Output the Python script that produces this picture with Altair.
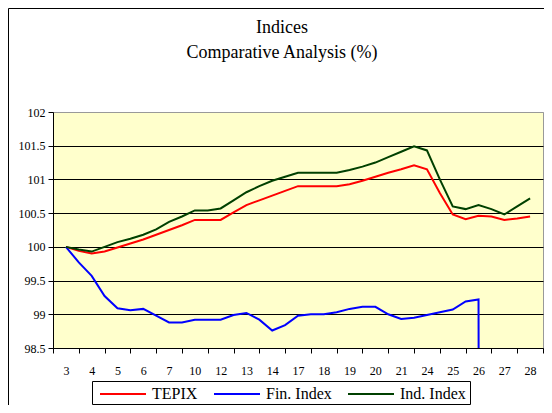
import altair as alt
import pandas as pd

# Category labels on the x axis (days)
x_labels = ["3", "4", "5", "6", "7", "10", "12", "13", "14", "17", "18",
            "19", "20", "21", "24", "25", "26", "27", "28"]

# Observation positions, in category units (two readings per category)
steps = [i * 0.5 for i in range(37)]

tepix = [100.0, 99.94, 99.90, 99.93, 99.99, 100.05, 100.11, 100.18, 100.25,
         100.32, 100.40, 100.40, 100.40, 100.51, 100.62, 100.69, 100.76,
         100.83, 100.90, 100.90, 100.90, 100.90, 100.93, 100.98, 101.04,
         101.10, 101.15, 101.21, 101.15, 100.80, 100.48, 100.41, 100.46,
         100.45, 100.40, 100.42, 100.45]

fin_index = [100.0, 99.77, 99.57, 99.27, 99.09, 99.06, 99.08, 98.98, 98.88,
             98.88, 98.92, 98.92, 98.92, 98.99, 99.02, 98.92, 98.76, 98.84,
             98.98, 99.00, 99.00, 99.03, 99.08, 99.11, 99.11, 99.00, 98.93,
             98.95, 98.99, 99.03, 99.07, 99.19, 99.22, 0.0, None, None, None]

ind_index = [100.0, 99.96, 99.93, 100.0, 100.07, 100.12, 100.18, 100.26,
             100.37, 100.45, 100.54, 100.54, 100.57, 100.69, 100.81, 100.90,
             100.98, 101.04, 101.10, 101.10, 101.10, 101.10, 101.14, 101.19,
             101.25, 101.33, 101.41, 101.49, 101.43, 101.00, 100.60, 100.56,
             100.62, 100.56, 100.48, 100.60, 100.72]

series_names = ["TEPIX", "Fin. Index", "Ind. Index"]
series_colors = ["#FF0000", "#0000FF", "#004000"]
y_ticks = [98.5, 99, 99.5, 100, 100.5, 101, 101.5, 102]

rows = []
for name, vals in zip(series_names, [tepix, fin_index, ind_index]):
    for k, (p, v) in enumerate(zip(steps, vals)):
        if v is not None:
            rows.append({"series": name, "pos": p, "value": v, "k": k})
df = pd.DataFrame(rows)

labels_js = "[" + ",".join("'" + s + "'" for s in x_labels) + "]"
x_tick_vals = [j * 0.5 - 0.5 for j in range(39)]

serif = "'Liberation Serif', 'Times New Roman', 'DejaVu Serif', serif"

lines = alt.Chart(df).mark_line(strokeWidth=2, clip=True).encode(
    x=alt.X(
        "pos:Q",
        scale=alt.Scale(domain=[-0.5, 18.5], nice=False, zero=False),
        axis=alt.Axis(
            values=x_tick_vals,
            labelExpr="datum.value % 1 === 0 ? " + labels_js + "[datum.value] : ''",
            tickOpacity={"condition": {"test": "datum.value % 1 !== 0", "value": 1}, "value": 0},
            grid=False,
            title=None,
            tickSize=5,
            labelPadding=21,
            labelBaseline="alphabetic",
            labelOverlap=False,
            labelFlush=False,
        ),
    ),
    y=alt.Y(
        "value:Q",
        scale=alt.Scale(domain=[98.5, 102], nice=False, zero=False),
        axis=alt.Axis(
            values=y_ticks,
            format=".1~f",
            title=None,
            grid=True,
            gridColor={"condition": {"test": "datum.value >= 102", "value": "#999999"}, "value": "#000000"},
            tickSize=5,
            labelPadding=3,
        ),
    ),
    color=alt.Color(
        "series:N",
        scale=alt.Scale(domain=series_names, range=series_colors),
        legend=alt.Legend(
            orient="none", legendX=46, legendY=258, direction="horizontal",
            title=None, padding=0, columnPadding=12,
            labelFont=serif, labelFontSize=16, labelColor="black",
            symbolType="stroke", symbolSize=2116, symbolStrokeWidth=2,
            labelOffset=5,
        ),
    ),
    order=alt.Order("k:Q"),
)

one_row = pd.DataFrame({"k": [0]})
top_rule = alt.Chart(one_row).mark_rule(color="black", strokeWidth=1, clip=False).encode(
    x=alt.value(-44.5), x2=alt.value(491), y=alt.value(-103.5))
left_rule = alt.Chart(one_row).mark_rule(color="black", strokeWidth=1, clip=False).encode(
    x=alt.value(-44.5), y=alt.value(-103.5), y2=alt.value(293))
legend_box = alt.Chart(one_row).mark_rect(
    fill="transparent", stroke="black", strokeWidth=1, clip=False
).encode(x=alt.value(39.5), x2=alt.value(417.5), y=alt.value(269.5), y2=alt.value(292.5))

chart = alt.layer(lines, top_rule, left_rule, legend_box).properties(
    width=490,
    height=236,
    padding={"left": 45, "top": 104, "right": 1, "bottom": 57},
    autosize=alt.AutoSizeParams(type="none"),
    title=alt.TitleParams(
        text=["Indices", "Comparative Analysis (%)"],
        font=serif, fontSize=18, fontWeight="normal", color="black",
        anchor="middle", dx=-16, offset=-54, lineHeight=25,
    ),
    background="white",
).configure_view(
    fill="#FFFFCC", stroke="#999999", strokeWidth=1
).configure_axis(
    labelFont=serif, labelFontSize=12, labelColor="black",
    domainColor="black", tickColor="black", domainWidth=1, tickWidth=1,
)

chart.save("out.html", embed_options={"renderer": "svg", "actions": False})
